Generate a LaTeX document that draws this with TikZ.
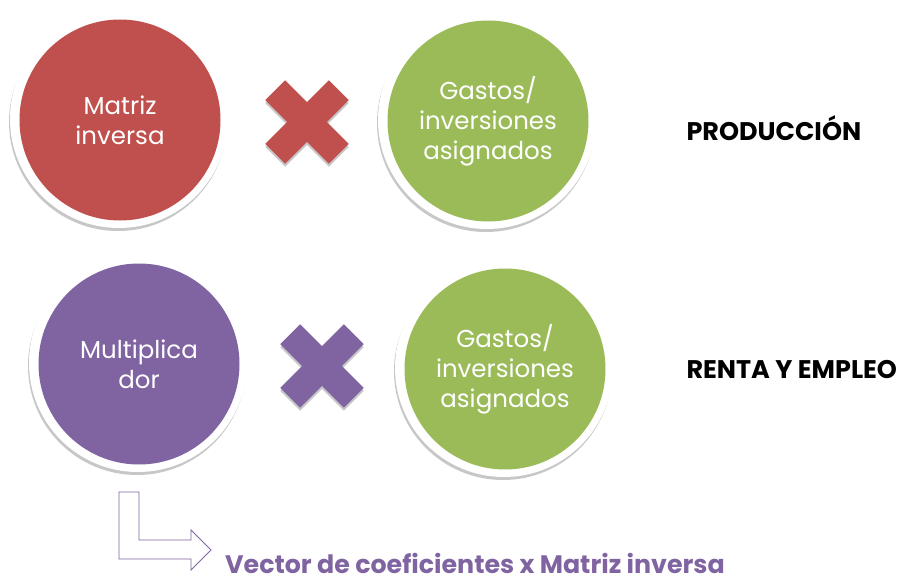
\documentclass[tikz,border=0pt]{standalone}
\usepackage{fontspec}
\setmainfont{Poppins}
\usetikzlibrary{shadows}
\definecolor{cred}{HTML}{C0504D}
\definecolor{cgreen}{HTML}{9BBB59}
\definecolor{cpurple}{HTML}{8064A2}
\begin{document}
\begin{tikzpicture}[x=1pt,y=-1pt,
  ring/.style={circle,fill=white,minimum size=218pt,inner sep=0pt,
    drop shadow={shadow xshift=-1pt,shadow yshift=-3pt,opacity=0.22,fill=black}},
  disc/.style={circle,fill=#1,minimum size=201pt,inner sep=0pt,text=white,
    font=\fontsize{24.5}{30}\selectfont,align=center},
  crossarm/.style={fill=#1,draw=none,
    drop shadow={shadow xshift=0pt,shadow yshift=-3pt,opacity=0.22,fill=black}},
  side/.style={font=\fontsize{25.5}{30}\selectfont\bfseries,anchor=west,text=black},
]
\useasboundingbox (0,0) rectangle (898,578);
% row 1
\node[ring] (r1) at (119,119) {};
\node[disc=cred] (m1) at (120,120) {Matriz\\inversa};
\node[ring] (r2) at (487,120) {};
\node[disc=cgreen] (g1) at (488,121) {Gastos/\\inversiones\\asignados};
\begin{scope}[shift={(307,122)},rotate=45]
  \fill[crossarm=cred] (-45,-14) -- (-14,-14) -- (-14,-45) -- (14,-45) -- (14,-14) -- (45,-14) -- (45,14) -- (14,14) -- (14,45) -- (-14,45) -- (-14,14) -- (-45,14) -- cycle;
\end{scope}
\node[side] (p) at (683,128) {PRODUCCIÓN};
% row 2
\node[ring] (r3) at (138,363) {};
\node[disc=cpurple] (mu) at (139,364) {Multiplica\\dor};
\node[ring] (r4) at (504,368) {};
\node[disc=cgreen] (g2) at (505,369) {Gastos/\\inversiones\\asignados};
\begin{scope}[shift={(322,366)},rotate=45]
  \fill[crossarm=cpurple] (-45,-14) -- (-14,-14) -- (-14,-45) -- (14,-45) -- (14,-14) -- (45,-14) -- (45,14) -- (14,14) -- (14,45) -- (-14,45) -- (-14,14) -- (-45,14) -- cycle;
\end{scope}
\node[side] (re) at (683,370) {RENTA Y EMPLEO};
% L arrow
\draw[cpurple,line width=0.8pt,line join=miter] (119,492) -- (139,492) -- (139,540) -- (191,540) -- (191,530) -- (211,550) -- (191,570) -- (191,559) -- (119,559) -- cycle;
\node[anchor=base west,inner sep=0pt,text=cpurple,font=\fontsize{25.3}{30}\selectfont\bfseries] (v) at (225,573.5) {Vector de coeficientes x Matriz inversa};
\end{tikzpicture}
\end{document}
